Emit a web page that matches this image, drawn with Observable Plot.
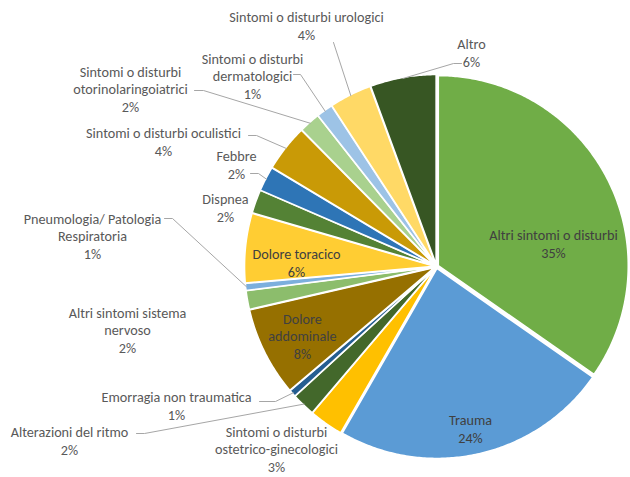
<!DOCTYPE html>
<html><head><meta charset="utf-8">
<script src="https://cdn.jsdelivr.net/npm/d3@7"></script>
<script src="https://cdn.jsdelivr.net/npm/@observablehq/plot@0.6"></script>
<style>body{margin:0;background:#fff}#chart svg{display:block}</style>
</head><body><div id="chart"></div>
<script>
// ---- data (clockwise from 12 o'clock) ----
const categories = [
  "Altri sintomi o disturbi",
  "Trauma",
  "Sintomi o disturbi ostetrico-ginecologici",
  "Alterazioni del ritmo",
  "Emorragia non traumatica",
  "Dolore addominale",
  "Altri sintomi sistema nervoso",
  "Pneumologia/ Patologia Respiratoria",
  "Dolore toracico",
  "Dispnea",
  "Febbre",
  "Sintomi o disturbi oculistici",
  "Sintomi o disturbi otorinolaringoiatrici",
  "Sintomi o disturbi dermatologici",
  "Sintomi o disturbi urologici",
  "Altro"
];
const shares = [34.7, 23.6, 2.9, 2.0, 0.6, 7.6, 1.6, 0.6, 5.9, 2.0, 2.1, 4.0, 1.8, 1.4, 3.6, 5.6];
const labelLines = [
  "Altri sintomi o disturbi",
  "Trauma",
  "Sintomi o disturbi\nostetrico-ginecologici",
  "Alterazioni del ritmo",
  "Emorragia non traumatica",
  "Dolore\naddominale",
  "Altri sintomi sistema\nnervoso",
  "Pneumologia/ Patologia\nRespiratoria",
  "Dolore toracico",
  "Dispnea",
  "Febbre",
  "Sintomi o disturbi oculistici",
  "Sintomi o disturbi\notorinolaringoiatrici",
  "Sintomi o disturbi\ndermatologici",
  "Sintomi o disturbi urologici",
  "Altro"
];
const colors = ["#70AD47","#5B9BD5","#FFC000","#43682B","#255E91","#967000","#8CBD6C","#7CAFDD",
                "#FFCD33","#548235","#2E75B6","#C99A06","#A9D18E","#9DC3E6","#FFD966","#375623"];

// ---- layout ----
const W = 630, H = 477, CX = 436, CY = 266, R = 190, EXP = 2;
// label block centre, inside flag, leader start points (end point is computed on the slice edge)
const labelLayout = [
  {x: 553, y: 243, inside: true},
  {x: 470, y: 428, inside: true},
  {x: 276, y: 448},
  {x: 69,  y: 440, leader: [[136,433],[144,433]]},
  {x: 176, y: 405, leader: [[259,401],[275,401]]},
  {x: 302, y: 335, inside: true},
  {x: 127, y: 329},
  {x: 92,  y: 235, leader: [[164,218],[172,218]]},
  {x: 296, y: 262, inside: true},
  {x: 225, y: 207},
  {x: 236, y: 164, leader: [[250,173],[258,173]]},
  {x: 163, y: 141, leader: [[248,135],[256,135]]},
  {x: 130, y: 88,  leader: [[194,90],[203,90]]},
  {x: 252, y: 75,  leader: [[293,74],[300,74]]},
  {x: 306, y: 25,  leader: [[333,42]]},
  {x: 471, y: 52,  leader: [[461,63],[453,63]]}
];

const total = d3.sum(shares);
const rows = categories.map((c, i) => ({name: c, value: shares[i], i}));
const arcs = d3.pie().sort(null).value(d => d.value).startAngle(0).endAngle(2 * Math.PI)(rows);

const slicePts = [];
const labels = [];
const leaders = [];
arcs.forEach(p => {
  const d = p.data;
  const mid = (p.startAngle + p.endAngle) / 2;
  const ox = CX + EXP * Math.sin(mid), oy = CY - EXP * Math.cos(mid);
  const n = Math.max(2, Math.ceil((p.endAngle - p.startAngle) / 0.01));
  slicePts.push({name: d.name, x: ox, y: oy});
  for (let k = 0; k <= n; k++) {
    const a = p.startAngle + (p.endAngle - p.startAngle) * k / n;
    slicePts.push({name: d.name, x: ox + R * Math.sin(a), y: oy - R * Math.cos(a)});
  }
  slicePts.push({name: d.name, x: ox, y: oy});
  const L = labelLayout[d.i];
  labels.push({
    x: L.x, y: L.y, inside: !!L.inside,
    text: labelLines[d.i] + "\n" + Math.round(d.value / total * 100) + "%"
  });
  if (L.leader) {
    L.leader.forEach(([x, y]) => leaders.push({name: d.name, x, y}));
    leaders.push({name: d.name, x: ox + (R - 1) * Math.sin(mid), y: oy - (R - 1) * Math.cos(mid)});
  }
});

const FONT = "Carlito, Calibri, Lato, sans-serif";
const chart = Plot.plot({
  width: W, height: H,
  marginTop: 0, marginRight: 0, marginBottom: 0, marginLeft: 0,
  x: {domain: [0, W], range: [0, W], axis: null},
  y: {domain: [0, H], range: [0, H], axis: null},
  color: {type: "ordinal", domain: categories, range: colors},
  style: {background: "#fff"},
  marks: [
    Plot.line(slicePts, {x: "x", y: "y", z: "name", fill: "name", stroke: "white", strokeWidth: 1.6, strokeLinejoin: "round", curve: "linear"}),
    Plot.line(leaders, {x: "x", y: "y", z: "name", stroke: "#A6A6A6", strokeWidth: 1}),
    Plot.text(labels.filter(d => !d.inside), {x: "x", y: "y", text: "text", fill: "#595959", fontSize: 14.2, lineHeight: 1.23, fontFamily: FONT}),
    Plot.text(labels.filter(d => d.inside), {x: "x", y: "y", text: "text", fill: "#404040", fontSize: 14.2, lineHeight: 1.23, fontFamily: FONT})
  ]
});
document.getElementById("chart").appendChild(chart);
</script>
</body></html>
